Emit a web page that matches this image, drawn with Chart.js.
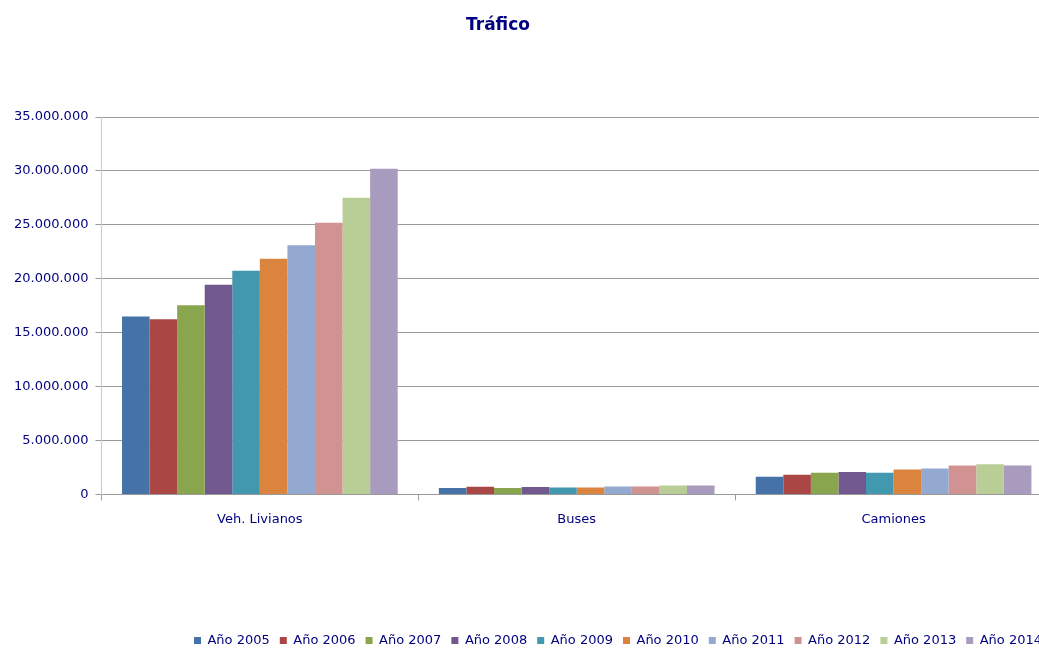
<!DOCTYPE html>
<html>
<head>
<meta charset="utf-8">
<script src="https://cdn.jsdelivr.net/npm/chart.js@4/dist/chart.umd.min.js"></script>
<style>
  html, body { margin: 0; padding: 0; background: #fff; overflow: hidden; }
  #wrap { position: relative; width: 1100px; height: 648px; }
</style>
</head>
<body>
<div id="wrap"><canvas id="myChart"></canvas></div>
<script>
// data
const categories = ['Veh. Livianos', 'Buses', 'Camiones'];
const years = ['Año 2005', 'Año 2006', 'Año 2007', 'Año 2008', 'Año 2009',
               'Año 2010', 'Año 2011', 'Año 2012', 'Año 2013', 'Año 2014'];
const livianos = [16500000, 16250000, 17550000, 19450000, 20750000, 21850000, 23100000, 25200000, 27500000, 30200000];
const buses    = [600000, 700000, 600000, 680000, 650000, 650000, 740000, 740000, 830000, 830000];
const camiones = [1640000, 1830000, 2010000, 2070000, 2010000, 2320000, 2410000, 2690000, 2790000, 2690000];
const yTicks = [0, 5000000, 10000000, 15000000, 20000000, 25000000, 30000000, 35000000];

const colors = ['#4572A7', '#AA4643', '#89A54E', '#71588F', '#4198AF',
                '#DB843D', '#93A9CF', '#D19392', '#B9CD96', '#A99BBD'];

const navy = '#000080';
const fontFam = '"DejaVu Sans", Verdana, sans-serif';

const fmt = v => String(v).replace(/\B(?=(\d{3})+(?!\d))/g, '.');

const data = {
  labels: categories,
  datasets: years.map((y, i) => ({
    label: y,
    data: [livianos[i], buses[i], camiones[i]],
    backgroundColor: colors[i],
    borderWidth: 0,
    barPercentage: 1,
    categoryPercentage: 0.87
  }))
};

// title drawn at a fixed spot, like the original
const titlePlugin = {
  id: 'titlePlugin',
  afterDraw(chart) {
    const { ctx } = chart;
    ctx.save();
    ctx.font = 'bold 17px ' + fontFam;
    ctx.fillStyle = navy;
    ctx.textAlign = 'center';
    ctx.textBaseline = 'middle';
    ctx.fillText('Tráfico', 498, 26);
    ctx.restore();
  }
};

const config = {
  type: 'bar',
  data,
  options: {
    responsive: true,
    maintainAspectRatio: false,
    animation: false,
    layout: { padding: { left: 7, right: 48, top: 117, bottom: -9 } },
    plugins: {
      title: { display: false },
      tooltip: { enabled: false },
      legend: {
        position: 'bottom',
        align: 'end',
        labels: {
          boxWidth: 7,
          boxHeight: 7,
          padding: 10,
          color: navy,
          font: { family: fontFam, size: 13 }
        }
      }
    },
    scales: {
      x: {
        grid: {
          offset: true,
          drawOnChartArea: false,
          drawTicks: true,
          tickLength: 6,
          color: '#9a9a9a'
        },
        border: { color: '#9a9a9a', width: 1 },
        ticks: {
          color: navy,
          padding: 11,
          font: { family: fontFam, size: 13 }
        },
        afterFit(scale) { scale.height += 86; }
      },
      y: {
        min: 0,
        max: 35000000,
        afterBuildTicks(scale) { scale.ticks = yTicks.map(v => ({ value: v })); },
        grid: {
          color: '#9a9a9a',
          tickLength: 6,
          drawTicks: true
        },
        border: { color: '#c8c8c8', width: 1 },
        ticks: {
          color: navy,
          padding: 7,
          font: { family: fontFam, size: 13 },
          callback: v => fmt(v)
        }
      }
    }
  },
  plugins: [titlePlugin]
};

const myChart = new Chart(document.getElementById('myChart'), config);
</script>
</body>
</html>
